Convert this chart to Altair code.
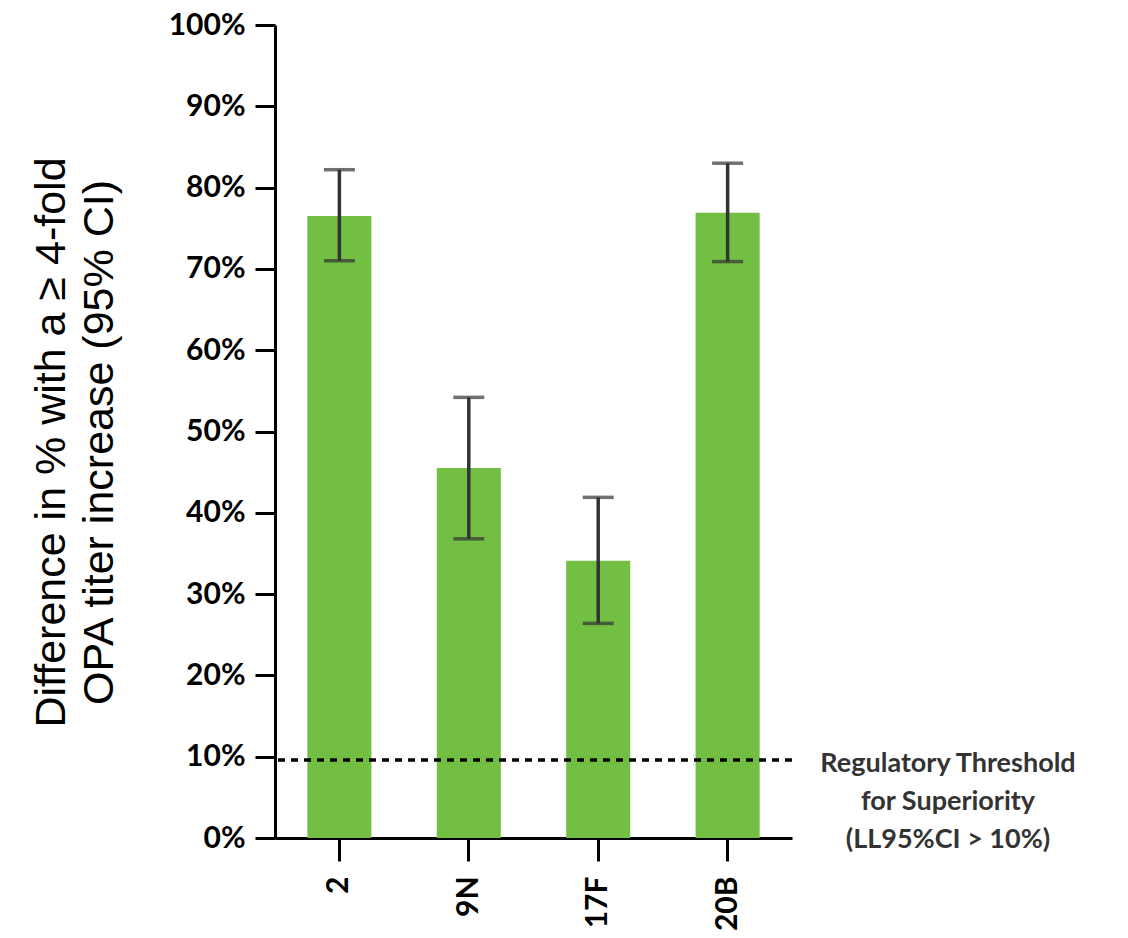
import altair as alt
import pandas as pd

categories = ["2", "9N", "17F", "20B"]
values = [76.5, 45.5, 34.1, 76.9]
ci_low = [71.0, 36.8, 26.4, 70.9]
ci_high = [82.2, 54.2, 41.9, 83.0]
threshold = [9.6]
y_ticks = [0, 10, 20, 30, 40, 50, 60, 70, 80, 90, 100]
annotation = ["Regulatory Threshold", "for Superiority", "(LL95%CI > 10%)"]

df = pd.DataFrame({"cat": categories, "val": values, "lo": ci_low, "hi": ci_high})
thr = pd.DataFrame({"t": threshold, "label": ["\n".join(annotation)]})

W, H = 517, 813
GREEN = "#72BF44"
DARK = "#333333"

x_enc = alt.X(
    "cat:N",
    sort=categories,
    scale=alt.Scale(paddingInner=0.505, paddingOuter=0.25),
    axis=alt.Axis(
        title=None,
        labelAngle=270,
        labelAlign="right",
        labelBaseline="middle",
        labelFont="Lato",
        labelFontWeight="bold",
        labelFontSize=30,
        labelColor="black",
        labelPadding=15,
        tickSize=23,
        tickWidth=3,
        tickColor="black",
        domainWidth=3,
        domainColor="black",
    ),
)

y_scale = alt.Scale(domain=[0, 100], nice=False)

bars = alt.Chart(df).mark_bar(color=GREEN).encode(
    x=x_enc,
    y=alt.Y(
        "val:Q",
        scale=y_scale,
        axis=alt.Axis(
            values=y_ticks,
            labelExpr="datum.value + '%'",
            labelFont="Lato",
            labelFontWeight="bold",
            labelFontSize=30,
            labelColor="black",
            labelPadding=10,
            tickSize=20,
            tickWidth=3,
            tickColor="black",
            domainWidth=3,
            domainColor="black",
            grid=False,
            title=["Difference in % with a \u2265 4-fold", "OPA titer increase (95% CI)"],
            titleFont="Liberation Sans",
            titleFontWeight="normal",
            titleFontSize=43,
            titleColor="black",
            titleAngle=270,
            titleAlign="center",
            titleBaseline="bottom",
            titleLineHeight=48,
            titleX=-202,
            titleY=417,
        ),
    ),
)

rule_thr = alt.Chart(thr).mark_rule(
    color="black", strokeWidth=3.5, strokeDash=[7, 6]
).encode(y=alt.Y("t:Q", scale=y_scale))

err = alt.Chart(df).mark_rule(color=DARK, strokeWidth=3.5).encode(
    x=alt.X("cat:N", sort=categories),
    y=alt.Y("lo:Q", scale=y_scale),
    y2="hi:Q",
)

cap_lo = alt.Chart(df).mark_tick(color=DARK, size=31, thickness=3.5).encode(
    x=alt.X("cat:N", sort=categories),
    y=alt.Y("lo:Q", scale=y_scale),
)
cap_hi = alt.Chart(df).mark_tick(color=DARK, size=31, thickness=3.5).encode(
    x=alt.X("cat:N", sort=categories),
    y=alt.Y("hi:Q", scale=y_scale),
)

label = alt.Chart(thr).mark_text(
    font="Lato",
    fontWeight="bold",
    fontSize=27,
    color=DARK,
    align="center",
    baseline="alphabetic",
    lineBreak="\n",
    lineHeight=38,
    dx=156,
    dy=12,
).encode(x=alt.value(W), y=alt.Y("t:Q", scale=y_scale), text="label:N")

chart = (
    alt.layer(bars, rule_thr, err, cap_lo, cap_hi, label)
    .properties(
        width=W,
        height=H,
        autosize=alt.AutoSizeParams(type="none"),
        padding={"left": 275, "top": 25, "right": 336, "bottom": 100},
        background="white",
    )
    .configure_view(stroke=None)
)

chart.save("out.html", embed_options={"renderer": "svg", "actions": False})
